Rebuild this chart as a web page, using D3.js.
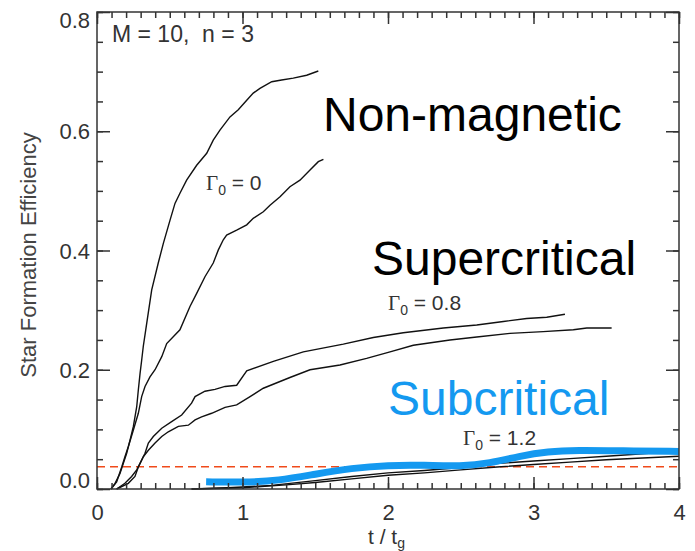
<!DOCTYPE html>
<html>
<head>
<meta charset="utf-8">
<script src="https://cdn.jsdelivr.net/npm/d3@7"></script>
<style>
  body { margin: 0; background: #fff; }
  svg { display: block; }
  text { font-family: "Liberation Sans", Arial, sans-serif; }
</style>
</head>
<body>
<svg id="chart" width="695" height="551"></svg>
<script>
// t / t_g , SFE
var gamma0_a = [[0.096,0],[0.124,0.0095],[0.158,0.026],[0.181,0.043],[0.204,0.060],[0.227,0.082],[0.250,0.105],[0.273,0.138],[0.284,0.166],[0.296,0.194],[0.307,0.216],[0.318,0.239],[0.335,0.267],[0.376,0.334],[0.421,0.379],[0.456,0.412],[0.502,0.451],[0.536,0.479],[0.570,0.496],[0.616,0.518],[0.685,0.543],[0.754,0.563],[0.799,0.585],[0.845,0.602],[0.914,0.624],[0.971,0.636],[1.029,0.652],[1.074,0.664],[1.120,0.672],[1.201,0.683],[1.269,0.686],[1.349,0.689],[1.441,0.694],[1.521,0.701]];
var gamma0_b = [[0.096,0],[0.135,0.012],[0.170,0.037],[0.192,0.054],[0.215,0.071],[0.250,0.099],[0.284,0.127],[0.307,0.155],[0.330,0.172],[0.364,0.188],[0.399,0.200],[0.445,0.222],[0.479,0.244],[0.570,0.267],[0.639,0.306],[0.685,0.328],[0.742,0.356],[0.799,0.379],[0.834,0.401],[0.868,0.418],[0.891,0.426],[0.960,0.434],[1.029,0.443],[1.074,0.454],[1.143,0.465],[1.189,0.476],[1.258,0.490],[1.326,0.507],[1.395,0.518],[1.464,0.535],[1.521,0.549],[1.556,0.553]];
var gamma08_a = [[0.135,0],[0.192,0.0095],[0.238,0.021],[0.273,0.032],[0.296,0.043],[0.330,0.060],[0.353,0.077],[0.387,0.088],[0.445,0.102],[0.513,0.113],[0.582,0.124],[0.650,0.144],[0.674,0.155],[0.742,0.164],[0.811,0.167],[0.880,0.172],[0.960,0.174],[1.029,0.198],[1.212,0.214],[1.418,0.230],[1.693,0.243],[1.899,0.254],[2.105,0.262],[2.380,0.270],[2.610,0.275],[2.793,0.281],[2.953,0.286],[3.091,0.288],[3.216,0.293]];
var gamma08_b = [[0.135,0],[0.215,0.0095],[0.261,0.021],[0.284,0.037],[0.318,0.054],[0.353,0.065],[0.399,0.077],[0.445,0.088],[0.490,0.096],[0.559,0.105],[0.628,0.107],[0.674,0.116],[0.719,0.121],[0.788,0.127],[0.880,0.137],[0.960,0.141],[1.052,0.155],[1.143,0.169],[1.326,0.187],[1.464,0.200],[1.670,0.208],[1.853,0.219],[2.014,0.230],[2.174,0.241],[2.426,0.250],[2.610,0.255],[2.838,0.261],[3.067,0.264],[3.274,0.267],[3.366,0.270],[3.537,0.270]];
var gamma12_a = [[0.65,0],[0.9,0.002],[1.2,0.006],[1.5,0.014],[1.75,0.021],[2.0,0.027],[2.25,0.031],[2.5,0.036],[2.7,0.042],[3.0,0.047],[3.25,0.051],[3.5,0.055],[3.75,0.059],[4.0,0.064]];
var gamma12_b = [[0.65,0],[1.0,0.002],[1.3,0.007],[1.5,0.011],[1.75,0.017],[2.0,0.023],[2.25,0.027],[2.5,0.032],[2.75,0.037],[3.0,0.041],[3.25,0.045],[3.5,0.049],[3.75,0.052],[4.0,0.055]];
var subcritical = [[0.75,0.012],[1.0,0.011],[1.25,0.014],[1.5,0.025],[1.75,0.035],[2.0,0.040],[2.25,0.040],[2.5,0.038],[2.7,0.043],[2.9,0.055],[3.1,0.063],[3.3,0.065],[3.6,0.064],[4.0,0.063]];
var threshold = 0.0374;

var xTicks = [0, 1, 2, 3, 4];
var yTicks = [0, 0.2, 0.4, 0.6, 0.8];

var svg = d3.select("#chart");
var x = d3.scaleLinear().domain([0, 4]).range([97, 679]);
var y = d3.scaleLinear().domain([0, 0.8]).range([489, 12]);

var line = d3.line()
    .x(function(d) { return x(d[0]); })
    .y(function(d) { return y(d[1]); });

// threshold
svg.append("line")
    .attr("x1", x(0)).attr("x2", x(4))
    .attr("y1", y(threshold)).attr("y2", y(threshold))
    .attr("stroke", "#f04a1a")
    .attr("stroke-width", 1.6)
    .attr("stroke-dasharray", "8,5");

// black runs
[gamma0_a, gamma0_b, gamma08_a, gamma08_b, gamma12_a, gamma12_b].forEach(function(s) {
    svg.append("path")
        .datum(s)
        .attr("d", line)
        .attr("fill", "none")
        .attr("stroke", "#111")
        .attr("stroke-width", 1.4);
});

// blue hand drawn curve
svg.append("path")
    .datum(subcritical)
    .attr("d", line.curve(d3.curveBasis))
    .attr("fill", "none")
    .attr("stroke", "#1499f0")
    .attr("stroke-width", 7)
    .attr("stroke-linecap", "butt");

// frame + ticks
function ticks(g) {
    g.selectAll(".domain").remove();
    g.selectAll("line").attr("stroke", "#333").attr("stroke-width", 1.5);
    g.selectAll("text").attr("fill", "#333").style("font-size", "22px");
}
svg.append("g").attr("transform", "translate(0,489)")
    .call(d3.axisBottom(x).tickValues(xTicks).tickSize(-12).tickPadding(15).tickFormat(d3.format("d")))
    .call(ticks);
svg.append("g").attr("transform", "translate(0,489)")
    .call(d3.axisBottom(x).tickValues(d3.range(0, 41).map(function(i) { return i / 10; })).tickSize(-6).tickFormat(""))
    .call(ticks);
svg.append("g").attr("transform", "translate(0,12)")
    .call(d3.axisTop(x).tickValues(xTicks).tickSize(-12).tickFormat(""))
    .call(ticks);
svg.append("g").attr("transform", "translate(0,12)")
    .call(d3.axisTop(x).tickValues(d3.range(0, 41).map(function(i) { return i / 10; })).tickSize(-6).tickFormat(""))
    .call(ticks);

var yl = svg.append("g").attr("transform", "translate(97,0)")
    .call(d3.axisLeft(y).tickValues(yTicks).tickSize(-13).tickPadding(7).tickFormat(d3.format(".1f")))
    .call(ticks);
yl.selectAll("text").attr("dy", function(d) { return d == 0.8 ? "0.7em" : (d == 0 ? "-0.05em" : "0.35em"); });
svg.append("g").attr("transform", "translate(97,0)")
    .call(d3.axisLeft(y).tickValues(d3.range(0, 17).map(function(i) { return i * 0.05; })).tickSize(-6).tickFormat(""))
    .call(ticks);
svg.append("g").attr("transform", "translate(679,0)")
    .call(d3.axisRight(y).tickValues(yTicks).tickSize(-13).tickFormat(""))
    .call(ticks);
svg.append("g").attr("transform", "translate(679,0)")
    .call(d3.axisRight(y).tickValues(d3.range(0, 17).map(function(i) { return i * 0.05; })).tickSize(-6).tickFormat(""))
    .call(ticks);

svg.append("rect")
    .attr("x", x(0)).attr("y", y(0.8))
    .attr("width", x(4) - x(0)).attr("height", y(0) - y(0.8))
    .attr("fill", "none").attr("stroke", "#333").attr("stroke-width", 1.5);

// axis titles
svg.append("text")
    .attr("transform", "translate(36,255) rotate(-90)")
    .attr("text-anchor", "middle")
    .attr("fill", "#444")
    .style("font-size", "22px")
    .text("Star Formation Efficiency");
var xt = svg.append("text")
    .attr("x", 368).attr("y", 544)
    .attr("fill", "#333")
    .style("font-size", "21px")
    .text("t / t");
xt.append("tspan").attr("dy", 4).style("font-size", "14px").text("g");

// annotations
svg.append("text")
    .attr("x", 112).attr("y", 42)
    .attr("fill", "#333")
    .style("font-size", "23px")
    .style("white-space", "pre")
    .text("M = 10,  n = 3");

var big = [["Non-magnetic", 323, 131, "#000"], ["Supercritical", 372, 275, "#000"], ["Subcritical", 388, 415, "#1499f0"]];
big.forEach(function(b) {
    svg.append("text")
        .attr("x", b[1]).attr("y", b[2])
        .attr("fill", b[3])
        .style("font-size", "48px")
        .text(b[0]);
});

var gammaLabels = [["0", 206, 190], ["0.8", 388, 310], ["1.2", 463, 445]];
gammaLabels.forEach(function(g) {
    var t = svg.append("text")
        .attr("x", g[1]).attr("y", g[2])
        .attr("fill", "#333")
        .style("font-size", "21px");
    t.append("tspan").style("font-family", "'Liberation Serif', 'Times New Roman', serif").text("Γ");
    t.append("tspan").attr("dy", 5).style("font-size", "14px").text("0");
    t.append("tspan").attr("dy", -5).text(" = " + g[0]);
});
</script>
</body>
</html>
